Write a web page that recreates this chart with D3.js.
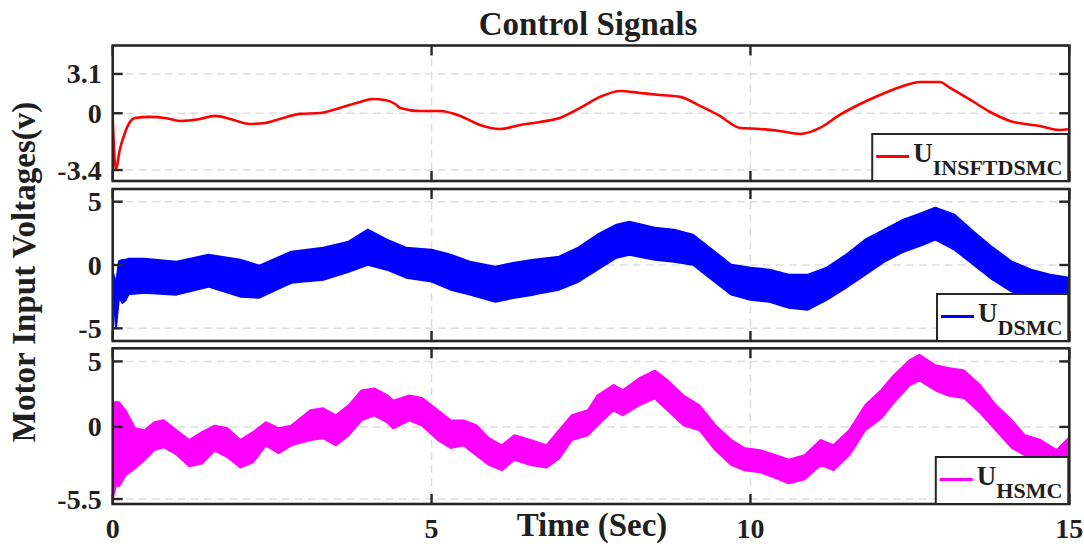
<!DOCTYPE html>
<html>
<head>
<meta charset="utf-8">
<script src="https://cdn.jsdelivr.net/npm/d3@7"></script>
<style>
  body { margin: 0; background: #fff; }
  svg { display: block; }
  text { font-family: "Liberation Serif", "Times New Roman", serif; font-weight: bold; fill: #1f1f1f; }
</style>
</head>
<body>
<svg id="chart" width="1084" height="544"></svg>
<script>
// ---- time axis ----
const xTicks = [0, 5, 10, 15];
const xTickLabels = ["0", "5", "10", "15"];

// ---- U_INSFTDSMC (smooth control signal) ----
const tInsft = [0,0.05,0.11,0.19,0.27,0.35,0.58,0.82,1.05,1.37,1.6,1.84,2.15,2.39,2.62,2.94,3.25,3.56,3.88,4.07,4.27,4.43,4.51,4.82,5.13,5.45,5.76,6.07,6.39,6.7,7.01,7.33,7.64,7.96,8.27,8.58,8.9,9.21,9.52,9.84,10.15,10.46,10.78,11.09,11.4,11.72,12.03,12.35,12.66,12.97,13.13,13.45,13.76,14.07,14.54,14.85,15];
const uInsft = [-0.28,-3.4,-2.2,-1.18,-0.52,-0.28,-0.22,-0.28,-0.46,-0.34,-0.16,-0.34,-0.64,-0.58,-0.34,-0.04,0.02,0.42,0.89,1.13,1.05,0.73,0.42,0.18,0.18,-0.16,-0.7,-0.94,-0.7,-0.52,-0.28,0.42,1.29,1.76,1.6,1.44,1.29,0.58,-0.16,-0.88,-0.94,-1.06,-1.24,-0.88,-0.1,0.73,1.44,2.07,2.47,2.47,2.0,1.05,0.1,-0.46,-0.76,-1.0,-0.94];
const yTicksInsft = [-3.4, 0, 3.1];
const yTickLabelsInsft = ["-3.4", "0", "3.1"];

// ---- U_DSMC (chattering band: upper / lower envelope) ----
const tDsmc = [0,0.05,0.1,0.15,0.2,0.25,0.5,1.0,1.5,2.0,2.3,2.8,3.3,3.7,4.0,4.3,4.6,5.0,5.3,5.6,6.0,6.3,6.6,7.0,7.3,7.6,7.9,8.1,8.5,8.8,9.1,9.4,9.7,10.0,10.3,10.6,10.9,11.2,11.5,11.8,12.1,12.4,12.7,12.9,13.2,13.5,13.8,14.1,14.4,14.7,15.0];
const dsmcHi = [-0.5,-1.5,0.3,0.4,0.4,0.5,0.5,0.26,0.81,0.42,-0.05,1.05,1.37,1.84,2.79,2.0,1.37,1.2,0.81,0.26,-0.13,0.18,0.42,0.65,1.37,2.39,3.18,3.42,2.94,2.79,2.39,1.21,0.02,-0.21,-0.37,-0.77,-0.77,-0.21,0.81,2.0,2.79,3.58,4.13,4.52,3.97,2.63,1.37,0.26,-0.37,-0.77,-1.0];
const dsmcLo = [-1.0,-5.0,-2.5,-3.0,-2.8,-2.3,-2.2,-2.34,-1.71,-2.5,-2.58,-1.4,-1.16,-0.53,0.02,-0.37,-1.0,-1.3,-1.95,-2.34,-2.9,-2.58,-2.34,-1.95,-1.32,-0.37,0.58,0.81,0.42,0.26,0.02,-1.16,-2.34,-2.74,-2.9,-3.37,-3.53,-2.74,-1.79,-0.77,0.26,1.05,1.6,2.0,1.21,0.02,-1.16,-2.1,-2.58,-2.5,-2.26];
const yTicksDsmc = [-5, 0, 5];
const yTickLabelsDsmc = ["-5", "0", "5"];

// ---- U_HSMC (chattering band: upper / lower envelope) ----
const tHsmc = [0,0.05,0.1,0.2,0.35,0.5,0.65,0.8,1.0,1.2,1.4,1.6,1.8,2.0,2.2,2.4,2.6,2.8,3.1,3.3,3.5,3.7,3.9,4.1,4.3,4.4,4.65,4.85,5.1,5.3,5.5,5.7,5.9,6.1,6.3,6.55,6.8,7.0,7.2,7.45,7.6,7.85,8.0,8.25,8.5,8.7,8.95,9.2,9.45,9.7,9.9,10.15,10.4,10.6,10.85,11.1,11.3,11.55,11.8,12.05,12.25,12.5,12.65,12.9,13.1,13.35,13.6,13.85,14.1,14.3,14.55,14.8,15.0];
const hsmcHi = [1.88,1.88,1.88,1.27,-0.1,-0.25,0.36,0.51,-0.25,-1.0,-0.4,0.1,-0.1,-1.0,-0.4,0.36,-0.1,0.1,1.27,1.42,0.89,1.65,2.79,2.94,2.43,2.0,2.4,2.2,1.27,0.5,0.5,0.13,-0.86,-1.4,-0.63,-1.0,-1.4,-0.25,0.89,1.27,2.4,3.2,2.8,3.7,4.3,3.55,2.4,1.65,0.13,-1.0,-1.6,-1.77,-2.15,-2.5,-2.15,-1.0,-1.4,-0.25,1.65,2.8,3.95,5.1,5.5,4.7,4.5,4.3,3.2,1.65,0.5,-0.63,-1.0,-1.77,-0.8];
const hsmcLo = [-5.5,-4.44,-4.5,-3.7,-3.15,-2.5,-1.77,-1.55,-2.1,-3.0,-2.8,-1.8,-2.3,-3.1,-2.7,-1.4,-2.0,-1.4,-1.0,-0.86,-1.4,-0.63,0.51,0.89,0.36,-0.1,0.5,0.1,-1.0,-1.6,-1.4,-2.15,-2.9,-3.3,-2.5,-2.9,-3.1,-2.4,-1.0,-0.63,0.1,1.27,0.89,1.65,2.18,1.27,0.13,-0.25,-1.77,-2.9,-3.3,-3.45,-3.9,-4.3,-4.0,-2.9,-3.3,-2.15,-0.25,0.66,1.87,3.2,3.55,2.8,2.4,2.2,1.1,-0.25,-1.6,-2.15,-2.15,-2.3,-2.15];
const yTicksHsmc = [-5.5, 0, 5];
const yTickLabelsHsmc = ["-5.5", "0", "5"];

// ---- layout ----
const W = 1084, H = 544;
const left = 112.7, right = 1069.3;
const frameColor = "#262626";
const gridColor = "#dedede";
const tickLen = 10;

const svg = d3.select("#chart");
const x = d3.scaleLinear().domain([0, 15]).range([left, right]);

function insftScale(top, bottom) {
  const h = bottom - top;
  // tick marks of this panel sit at fixed fractions of its height
  return d3.scaleLinear().domain(yTicksInsft).range([top + 0.919 * h, top + 0.5 * h, top + 0.21 * h]);
}

const panels = [
  {
    id: "p1", top: 45.5, bottom: 181, color: "#ff0000", sub: "INSFTDSMC",
    y: (t, b) => insftScale(t, b),
    ticks: yTicksInsft, tickLabels: yTickLabelsInsft,
    line: tInsft.map((t, i) => ({ t, v: uInsft[i] }))
  },
  {
    id: "p2", top: 189, bottom: 341, color: "#0000ff", sub: "DSMC",
    y: (t, b) => d3.scaleLinear().domain([-6, 6]).range([b, t]),
    ticks: yTicksDsmc, tickLabels: yTickLabelsDsmc,
    band: tDsmc.map((t, i) => ({ t, hi: dsmcHi[i], lo: dsmcLo[i] }))
  },
  {
    id: "p3", top: 348.3, bottom: 504, color: "#ff00ff", sub: "HSMC",
    y: (t, b) => d3.scaleLinear().domain([-5.88, 6]).range([b, t]),
    ticks: yTicksHsmc, tickLabels: yTickLabelsHsmc,
    band: tHsmc.map((t, i) => ({ t, hi: hsmcHi[i], lo: hsmcLo[i] }))
  }
];

const defs = svg.append("defs");

panels.forEach((p, idx) => {
  const y = p.y(p.top, p.bottom);
  const g = svg.append("g");

  defs.append("clipPath").attr("id", "clip-" + p.id)
    .append("rect").attr("x", left).attr("y", p.top)
    .attr("width", right - left).attr("height", p.bottom - p.top);

  // background
  g.append("rect").attr("x", left).attr("y", p.top)
    .attr("width", right - left).attr("height", p.bottom - p.top).attr("fill", "#fff");

  // dashed grid
  const grid = g.append("g").attr("stroke", gridColor).attr("stroke-width", 1.5)
    .attr("stroke-dasharray", "8,5");
  grid.selectAll("line.v").data(xTicks.slice(1, -1)).join("line")
    .attr("x1", d => x(d)).attr("x2", d => x(d)).attr("y1", p.top).attr("y2", p.bottom);
  grid.selectAll("line.h").data(p.ticks).join("line")
    .attr("x1", left).attr("x2", right).attr("y1", d => y(d)).attr("y2", d => y(d));

  // signal
  const plot = g.append("g").attr("clip-path", "url(#clip-" + p.id + ")");
  if (p.line) {
    plot.append("path").datum(p.line)
      .attr("fill", "none").attr("stroke", p.color).attr("stroke-width", 2.6)
      .attr("stroke-linejoin", "round")
      .attr("d", d3.line().x(d => x(d.t)).y(d => y(d.v)).curve(d3.curveMonotoneX));
  } else {
    plot.append("path").datum(p.band)
      .attr("fill", p.color).attr("stroke", p.color).attr("stroke-width", 2)
      .attr("stroke-linejoin", "round")
      .attr("d", d3.area().x(d => x(d.t)).y0(d => y(d.lo)).y1(d => y(d.hi)));
  }

  // frame
  g.append("rect").attr("x", left).attr("y", p.top)
    .attr("width", right - left).attr("height", p.bottom - p.top)
    .attr("fill", "none").attr("stroke", frameColor).attr("stroke-width", 2.6);

  // inward ticks on all four sides
  const tk = g.append("g").attr("stroke", frameColor).attr("stroke-width", 2.4);
  p.ticks.forEach(v => {
    tk.append("line").attr("x1", left).attr("x2", left + tickLen).attr("y1", y(v)).attr("y2", y(v));
    tk.append("line").attr("x1", right - tickLen).attr("x2", right).attr("y1", y(v)).attr("y2", y(v));
  });
  xTicks.forEach(v => {
    tk.append("line").attr("x1", x(v)).attr("x2", x(v)).attr("y1", p.bottom).attr("y2", p.bottom - tickLen);
    tk.append("line").attr("x1", x(v)).attr("x2", x(v)).attr("y1", p.top).attr("y2", p.top + tickLen);
  });

  // y tick labels
  g.selectAll("text.yt").data(p.ticks).join("text")
    .attr("x", left - 11).attr("y", d => y(d) + 9.5)
    .attr("text-anchor", "end").style("font-size", "28px")
    .text((d, i) => p.tickLabels[i]);

  // legend (bottom-right corner)
  const lg = g.append("g");
  const box = lg.append("rect").attr("fill", "#fff").attr("stroke", frameColor).attr("stroke-width", 2);
  const sample = lg.append("line").attr("stroke", p.color).attr("stroke-width", 3);
  const u = lg.append("text").text("U").style("font-size", "27px");
  const s = lg.append("text").text(p.sub).style("font-size", "22px");
  const uW = u.node().getComputedTextLength();
  const sW = s.node().getComputedTextLength();
  const w = 41 + uW + sW + 6;
  const x0 = right - 1 - w;
  const bh = 47;
  box.attr("x", x0).attr("y", p.bottom - bh).attr("width", w).attr("height", bh);
  sample.attr("x1", x0 + 4).attr("x2", x0 + 37).attr("y1", p.bottom - 24.5).attr("y2", p.bottom - 24.5);
  u.attr("x", x0 + 41).attr("y", p.bottom - 19.5);
  s.attr("x", x0 + 41 + uW).attr("y", p.bottom - 6);

  // time tick labels under the last panel
  if (idx === panels.length - 1) {
    svg.selectAll("text.xt").data(xTicks).join("text")
      .attr("x", d => x(d)).attr("y", 538)
      .attr("text-anchor", "middle").style("font-size", "28px")
      .text((d, i) => xTickLabels[i]);
  }
});

// titles
svg.append("text").attr("x", 588).attr("y", 35).attr("text-anchor", "middle")
  .style("font-size", "33px").text("Control Signals");
svg.append("text").attr("x", 592).attr("y", 536).attr("text-anchor", "middle")
  .style("font-size", "33px").text("Time (Sec)");
svg.append("text").attr("transform", "translate(35,272) rotate(-90)")
  .attr("text-anchor", "middle").style("font-size", "33px").text("Motor Input Voltages(v)");
</script>
</body>
</html>
